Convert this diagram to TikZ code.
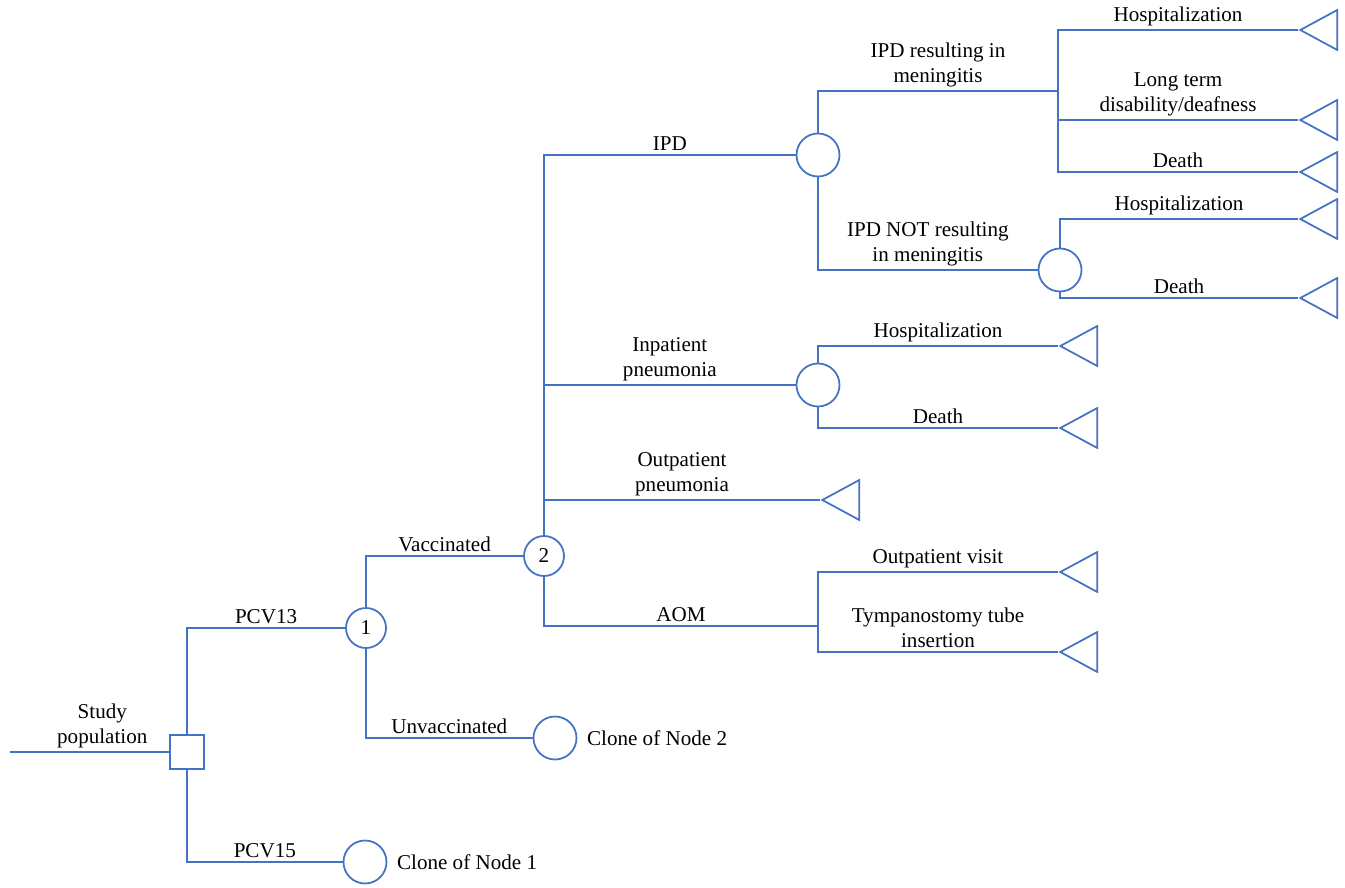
\documentclass[tikz,border=0pt]{standalone}
\usepackage{fontspec}
\setmainfont{Liberation Serif}
\usetikzlibrary{shapes.geometric,positioning}
\definecolor{treeblue}{RGB}{68,114,196}
\tikzset{chance/.style={draw=treeblue, circle, line width=1pt, minimum size=0.86cm, inner sep=0pt}}
\tikzset{decision/.style={draw=treeblue, rectangle, line width=1pt, minimum size=0.68cm, inner sep=0pt}}
\tikzset{elbow/.style={to path={|- (\tikztotarget) \tikztonodes}}}
\tikzstyle{term}=[draw=treeblue, isosceles triangle, shape border rotate=180, isosceles triangle stretches, minimum width=0.8cm, minimum height=0.74cm, inner sep=0pt, line width=1pt, anchor=apex]
\tikzstyle{lbl}=[above, align=center, inner sep=2pt, pos=0.75]
\begin{document}
\begin{tikzpicture}[x=0.02cm, y=-0.02cm, font=\fontsize{12}{14}\selectfont, every edge/.style={draw=treeblue, line width=1pt}]
\useasboundingbox (0,0) rectangle (1345,888);
\coordinate (IN) at (10,752);
\node[decision] (D) at (187,752) {};
\node[chance, minimum size=0.8cm] (N1) at (366,628) {1};
\node[chance] (K1) at (365,862) {};
\node[right=2pt of K1] (K1L) {Clone of Node 1};
\node[chance, minimum size=0.8cm] (N2) at (544,556) {2};
\node[chance] (K2) at (555,738) {};
\node[right=2pt of K2] (K2L) {Clone of Node 2};
\node[chance] (IPD) at (818,155) {};
\node[chance] (INP) at (818,385) {};
\node[term] (T1) at (820,500) {};
\coordinate (AOM) at (818,626);
\node[term] (T2) at (1058,572) {};
\node[term] (T3) at (1058,652) {};
\coordinate (MEN) at (1058,91);
\node[term] (T4) at (1298,30) {};
\node[term] (T5) at (1298,120) {};
\node[term] (T6) at (1298,172) {};
\node[chance] (NMEN) at (1060,270) {};
\node[term] (T7) at (1298,219) {};
\node[term] (T8) at (1298,298) {};
\node[term] (T9) at (1058,346) {};
\node[term] (T10) at (1058,428) {};
\path (IN) edge node[lbl, pos=0.58] {Study\\population} (D.west)
	(D.north) edge[elbow] node[lbl] {PCV13} (N1.west)
	(D.south) edge[elbow] node[lbl] {PCV15} (K1.west)
	(N1.north) edge[elbow] node[lbl] {Vaccinated} (N2.west)
	(N1.south) edge[elbow] node[lbl] {Unvaccinated} (K2.west)
	(N2.north) edge[elbow] node[lbl] {IPD} (IPD.west)
		edge[elbow] node[lbl] {Inpatient\\pneumonia} (INP.west)
		edge[elbow] node[lbl] {Outpatient\\pneumonia} (T1.apex)
	(N2.south) edge[elbow] node[lbl] {AOM} (AOM)
	(AOM) edge[elbow] node[lbl] {Outpatient visit} (T2.apex)
		edge[elbow] node[lbl] {Tympanostomy tube\\insertion} (T3.apex)
	(IPD.north) edge[elbow] node[lbl] {IPD resulting in\\meningitis} (MEN)
	(IPD.south) edge[elbow] node[lbl] {IPD NOT resulting\\in meningitis} (NMEN.west)
	(MEN) edge[elbow] node[lbl] {Hospitalization} (T4.apex)
		edge[elbow] node[lbl] {Long term\\disability/deafness} (T5.apex)
		edge[elbow] node[lbl] {Death} (T6.apex)
	(NMEN.north) edge[elbow] node[lbl] {Hospitalization} (T7.apex)
	(NMEN.south) edge[elbow] node[lbl] {Death} (T8.apex)
	(INP.north) edge[elbow] node[lbl] {Hospitalization} (T9.apex)
	(INP.south) edge[elbow] node[lbl] {Death} (T10.apex);
\end{tikzpicture}
\end{document}
